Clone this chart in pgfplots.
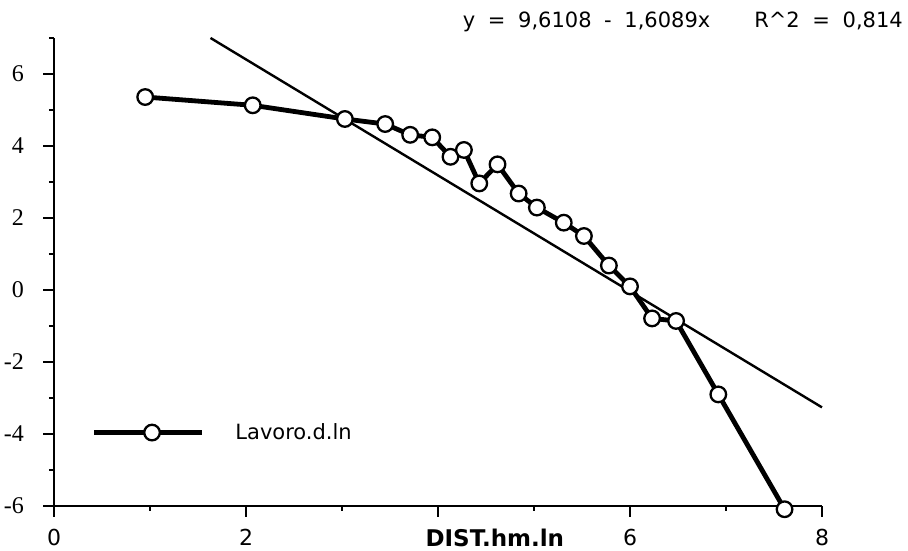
\documentclass[border=0pt]{standalone}
\usepackage{pgfplots}
\pgfplotsset{compat=1.18}
\usepackage{fontspec}
\setmainfont{DejaVu Sans}
\newfontfamily\seriffont{Liberation Serif}
\begin{document}
\begin{tikzpicture}[x=1pt,y=1pt]
\useasboundingbox (0,0) rectangle (908,551);
\begin{axis}[
  at={(54pt,45pt)}, anchor=south west,
  scale only axis, width=768pt, height=468pt,
  xmin=0, xmax=8, ymin=-6, ymax=7,
  axis lines=left, axis line style={-, line width=2.6pt},
  clip=false,
  tick align=outside,
  major tick length=11pt, minor tick length=5pt,
  every tick/.style={black, line width=2pt},
  xtick={0,2,4,6,8}, xticklabels={0,2,,6,8},
  minor xtick={1,3,5,7},
  ytick={-6,-4,-2,0,2,4,6},
  yticklabels={-6,-4,-2,0,2,4,6},
  minor ytick={-5,-3,-1,1,3,5,7},
  xticklabel style={font=\fontsize{22}{22}\selectfont, anchor=base, inner sep=0pt, yshift=-29pt},
  yticklabel style={font=\seriffont\fontsize{24}{24}\selectfont, anchor=east, inner sep=0pt, xshift=-19pt},
  xlabel={DIST.hm.ln},
  xlabel style={font=\bfseries\fontsize{23}{23}\selectfont, at={(axis description cs:0.574,0)}, anchor=base, yshift=-41pt, inner sep=0pt},
  legend style={at={(axis cs:0.39,-3.96)}, anchor=west, draw=none, fill=none, inner sep=0pt,
    font=\fontsize{21}{21}\selectfont, column sep=0pt, nodes={inner sep=0pt}},
  legend image code/.code={
    \draw[line width=4.8pt] (0pt,0pt) -- (108pt,0pt);
    \draw[line width=2.3pt, fill=white] (58pt,0pt) circle (7.8pt);
    \path (139pt,0pt);
  },
]
\addplot[black, line width=2.4pt, forget plot] coordinates {(1.6305,7.0) (8,-3.2604)};
\addplot[black, line width=4.8pt, mark=*, mark options={fill=white, line width=2.3pt, draw=black}, mark size=7.8pt] coordinates {
(0.95,5.36)
(2.07,5.13)
(3.03,4.75)
(3.45,4.61)
(3.71,4.31)
(3.94,4.24)
(4.13,3.70)
(4.27,3.89)
(4.43,2.96)
(4.62,3.49)
(4.84,2.68)
(5.03,2.29)
(5.31,1.87)
(5.52,1.50)
(5.78,0.68)
(6.00,0.10)
(6.23,-0.79)
(6.48,-0.86)
(6.92,-2.90)
(7.61,-6.09)
};
\addlegendentry{Lavoro.d.ln}
\end{axis}
\node[anchor=base east, inner sep=0pt, font=\fontsize{21}{21}\selectfont] at (903,523)
  {y\hspace{0.6em}=\hspace{0.6em}9,6108\hspace{0.6em}-\hspace{0.6em}1,6089x\hspace{44pt}R\textasciicircum 2\hspace{0.6em}=\hspace{0.6em}0,814};
\end{tikzpicture}
\end{document}
